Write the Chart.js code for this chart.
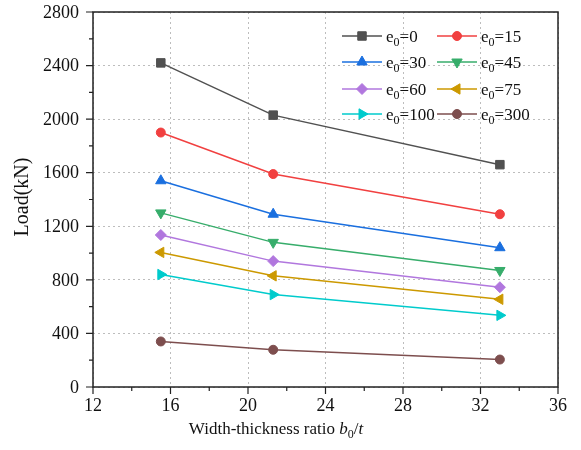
<!DOCTYPE html>
<html>
<head>
<meta charset="utf-8">
<script src="https://cdn.jsdelivr.net/npm/chart.js@4.4.1/dist/chart.umd.min.js"></script>
<style>
  html, body { margin: 0; padding: 0; background: #fff; }
  #wrap { width: 581px; height: 450px; }
</style>
</head>
<body>
<div id="wrap"><canvas id="chart"></canvas></div>
<script>
// width-thickness ratio b0/t of the three specimens
const ratios = [15.5, 21.3, 33.0];
// eccentricity e0 of each series
const e0 = ['0', '15', '30', '45', '60', '75', '100', '300'];
// ultimate load (kN) per series
const loadE0 = [2420, 2030, 1660];
const loadE15 = [1900, 1590, 1290];
const loadE30 = [1540, 1290, 1040];
const loadE45 = [1300, 1080, 870];
const loadE60 = [1135, 940, 745];
const loadE75 = [1005, 830, 655];
const loadE100 = [840, 690, 535];
const loadE300 = [340, 278, 205];

const loads = [loadE0, loadE15, loadE30, loadE45, loadE60, loadE75, loadE100, loadE300];
const colors = ['#515151', '#F14040', '#1A6FDF', '#37AD6B', '#B177DE', '#CC9900', '#00CBCC', '#7D4E4E'];
const markers = [
  { style: 'rect', rot: 0, r: 6 },
  { style: 'circle', rot: 0, r: 4.5 },
  { style: 'triangle', rot: 0, r: 6 },
  { style: 'triangle', rot: 180, r: 6 },
  { style: 'rectRot', rot: 0, r: 5.5 },
  { style: 'triangle', rot: 270, r: 6 },
  { style: 'triangle', rot: 90, r: 6 },
  { style: 'circle', rot: 0, r: 4.5 }
];

const serif = '"Liberation Serif", "Times New Roman", serif';

const datasets = loads.map((vals, i) => ({
  label: 'e0=' + e0[i],
  data: ratios.map((r, j) => ({ x: r, y: vals[j] })),
  borderColor: colors[i],
  backgroundColor: colors[i],
  borderWidth: 1.5,
  pointStyle: markers[i].style,
  pointRotation: markers[i].rot,
  pointRadius: markers[i].r,
  pointBorderWidth: 1,
  tension: 0
}));

// frame, outward ticks (major + minor), y labels, axis titles and the two-column legend
const decor = {
  id: 'decor',
  afterDraw(chart) {
    const { ctx, chartArea: a, scales: { x, y } } = chart;
    ctx.save();
    ctx.strokeStyle = '#222';
    ctx.lineWidth = 1.5;
    ctx.strokeRect(a.left, a.top, a.right - a.left, a.bottom - a.top);

    ctx.lineWidth = 1.2;
    ctx.beginPath();
    for (let v = 12; v <= 36; v += 2) {
      const px = x.getPixelForValue(v);
      const len = v % 4 === 0 ? 7 : 4;
      ctx.moveTo(px, a.bottom);
      ctx.lineTo(px, a.bottom + len);
    }
    for (let v = 0; v <= 2800; v += 200) {
      const py = y.getPixelForValue(v);
      const len = v % 400 === 0 ? 7 : 4;
      ctx.moveTo(a.left, py);
      ctx.lineTo(a.left - len, py);
    }
    ctx.stroke();

    // y tick labels
    ctx.fillStyle = '#111';
    ctx.font = '18px ' + serif;
    ctx.textAlign = 'right';
    ctx.textBaseline = 'middle';
    y.ticks.forEach(t => {
      ctx.fillText(String(t.value), a.left - 14, y.getPixelForValue(t.value) + 1);
    });

    // y title
    ctx.font = '20px ' + serif;
    ctx.textAlign = 'center';
    ctx.save();
    ctx.translate(23, 197);
    ctx.rotate(-Math.PI / 2);
    ctx.fillText('Load(kN)', 0, 0);
    ctx.restore();

    // x title with italic b, subscript 0, italic t
    const parts = [
      { t: 'Width-thickness ratio ', f: '17px ' + serif, dy: 0 },
      { t: 'b', f: 'italic 17px ' + serif, dy: 0 },
      { t: '0', f: '12px ' + serif, dy: 4 },
      { t: '/', f: '17px ' + serif, dy: 0 },
      { t: 't', f: 'italic 17px ' + serif, dy: 0 }
    ];
    let total = 0;
    parts.forEach(p => { ctx.font = p.f; total += ctx.measureText(p.t).width; });
    let cx = 276 - total / 2;
    ctx.textAlign = 'left';
    ctx.textBaseline = 'alphabetic';
    parts.forEach(p => {
      ctx.font = p.f;
      ctx.fillText(p.t, cx, 434 + p.dy);
      cx += ctx.measureText(p.t).width;
    });

    // legend
    const cols = [342, 437];
    const rows = [36, 62, 89, 114];
    chart.data.datasets.forEach((ds, i) => {
      const lx = cols[i % 2];
      const ly = rows[Math.floor(i / 2)];
      ctx.strokeStyle = ds.borderColor;
      ctx.fillStyle = ds.backgroundColor;
      ctx.lineWidth = 1.5;
      ctx.beginPath();
      ctx.moveTo(lx, ly);
      ctx.lineTo(lx + 40, ly);
      ctx.stroke();
      ctx.lineWidth = 1;
      Chart.helpers.drawPoint(ctx, {
        pointStyle: ds.pointStyle,
        rotation: ds.pointRotation,
        radius: ds.pointRadius,
        borderWidth: 1
      }, lx + 20, ly);

      ctx.fillStyle = '#111';
      let tx = lx + 44;
      const base = ly + 6;
      ctx.font = '17px ' + serif;
      ctx.fillText('e', tx, base);
      tx += ctx.measureText('e').width;
      ctx.font = '12px ' + serif;
      ctx.fillText('0', tx, base + 4);
      tx += ctx.measureText('0').width;
      ctx.font = '17px ' + serif;
      ctx.fillText('=' + e0[i], tx, base);
    });
    ctx.restore();
  }
};

new Chart(document.getElementById('chart'), {
  type: 'line',
  data: { datasets },
  plugins: [decor],
  options: {
    responsive: true,
    maintainAspectRatio: false,
    animation: false,
    layout: { autoPadding: false, padding: { top: 12, right: 23, bottom: 0, left: 0 } },
    plugins: { legend: { display: false }, tooltip: { enabled: false } },
    scales: {
      x: {
        type: 'linear',
        min: 12,
        max: 36,
        afterFit: s => { s.height = 63; },
        ticks: { stepSize: 4, padding: 8, color: '#111', font: { family: serif, size: 18 }, maxRotation: 0 },
        grid: { color: '#bdbdbd', lineWidth: 1, drawTicks: false },
        border: { display: false, dash: [2, 3] }
      },
      y: {
        min: 0,
        max: 2800,
        afterFit: s => { s.width = 93; },
        ticks: { stepSize: 400, display: false },
        grid: { color: '#bdbdbd', lineWidth: 1, drawTicks: false },
        border: { display: false, dash: [2, 3] }
      }
    }
  }
});
</script>
</body>
</html>
